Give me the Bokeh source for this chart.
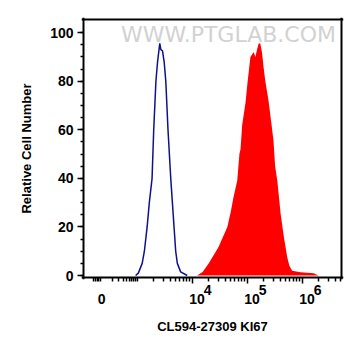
from bokeh.plotting import figure
from bokeh.models import FixedTicker, Label, Range1d, LinearAxis
from bokeh.embed import file_html
from bokeh.resources import INLINE
import numpy as np

# x values are in display units (log10 of fluorescence; biexponential axis)
blue_x = [2.97, 3.02, 3.09, 3.13, 3.18, 3.22, 3.27, 3.30, 3.34, 3.37, 3.41, 3.43,
          3.46, 3.49, 3.52, 3.56, 3.61, 3.67, 3.70, 3.73, 3.79, 3.91]
blue_y = [0, 1, 5, 10, 20, 30, 40, 60, 80, 88, 95.6, 93,
          92.5, 88, 80, 60, 40, 20, 10, 5, 1.5, 0]

red_x = [4.09, 4.19, 4.30, 4.48, 4.64, 4.68, 4.70, 4.75, 4.82, 4.86, 4.88, 4.91,
         4.97, 5.01, 5.06, 5.12, 5.15, 5.18, 5.21, 5.24, 5.27, 5.30, 5.33, 5.39,
         5.44, 5.48, 5.51, 5.55, 5.61, 5.67, 5.73, 5.77, 5.82, 5.97, 6.21, 6.30]
red_y = [0, 1.5, 5, 11.7, 20, 24, 26, 32, 39, 50, 52, 62,
         71, 80, 90, 92, 90, 93, 95.5, 95.5, 92, 85.8, 80.3, 72,
         63, 55.6, 45, 39, 25.4, 15.8, 7.5, 4, 2, 1.4, 0.95, 0]

zero_pos = 2.35
labeled_decades = [4, 5, 6]
exponents = ["4", "5", "6"]
y_ticks = [0, 20, 40, 60, 80, 100]
# visible box limits (data units); the plotting area is 2px larger on every side
X0, X1, Y0, Y1 = 2.04, 6.70, -0.4, 105
PADX = 2 * (X1 - X0) / 256
PADY = 2 * (Y1 - Y0) / 256

FONT = "Liberation Sans"

p = figure(width=353, height=348, output_backend="svg", toolbar_location=None,
           x_range=Range1d(X0 - PADX, X1 + PADX), y_range=Range1d(Y0 - PADY, Y1 + PADY),
           min_border_left=82, min_border_right=11, min_border_top=18,
           min_border_bottom=70, x_axis_location=None, y_axis_location=None)
p.grid.visible = False
p.outline_line_color = None
p.background_fill_color = "white"
p.border_fill_color = "white"

# watermark
p.add_layout(Label(x=4.66, y=99.3, text="WWW.PTGLAB.COM", text_align="center",
                   text_baseline="middle", text_font="DejaVu Sans",
                   text_font_size="22px", text_color="#d2d2d2"))

p.varea(x=red_x, y1=[0] * len(red_x), y2=red_y, fill_color="#ff0000")
p.line(blue_x, blue_y, line_color="#10108c", line_width=1.5)


# frame border: innermost axes whose dense inward ticks form a solid 2px band
def band(ticks):
    return LinearAxis(ticker=FixedTicker(ticks=[], minor_ticks=ticks),
                      major_tick_out=0, major_tick_in=0, minor_tick_out=0,
                      minor_tick_in=2, minor_tick_line_width=1.5,
                      minor_tick_line_color="black", axis_line_color=None)


dense_x = [float(v) for v in np.arange(X0 - PADX, X1 + PADX + 1e-9, PADX / 2.5)]
dense_y = [float(v) for v in np.arange(Y0 - PADY, Y1 + PADY + 1e-9, PADY / 2.5)]
p.add_layout(band(dense_x), "below")
p.add_layout(band(dense_x), "above")
p.add_layout(band(dense_y), "left")
p.add_layout(band(dense_y), "right")

# minor ticks for x (log decades, compressed low region, and the 10^3 mark)
minor_x = [3.0]
for d in [3, 4, 5, 6]:
    for k in range(2, 10):
        v = d + np.log10(k)
        if v < X1:
            minor_x.append(float(v))
for k in range(2, 10):
    minor_x.append(float(zero_pos + np.log10(k) * (3 - zero_pos)))
minor_x += [2.21, 2.24, 2.27, 2.30, 2.33]

lab = dict(major_label_text_font=FONT, major_label_text_font_style="bold",
           major_label_text_font_size="14px", major_label_text_color="black")

# axis B: decade ticks + superscript exponents (padded to sit right of the tick)
pad = "\u00a0" * 8
xb = LinearAxis(ticker=FixedTicker(ticks=labeled_decades, minor_ticks=minor_x),
                major_label_overrides={d: pad + e for d, e in zip(labeled_decades, exponents)},
                major_label_standoff=-2, major_tick_out=5, major_tick_in=1,
                minor_tick_out=3, minor_tick_in=1, axis_line_color=None,
                major_tick_line_width=1.5, minor_tick_line_width=1.5, **lab)
p.add_layout(xb, "below")

# axis C: "0" and "10" bases, plus axis title
base_pos = [zero_pos] + [d + 0.09 for d in labeled_decades]
base_txt = ["0", "10", "10", "10"]
xc = LinearAxis(ticker=FixedTicker(ticks=base_pos, minor_ticks=[]),
                major_label_overrides={v: t for v, t in zip(base_pos, base_txt)},
                major_label_standoff=-7, axis_label="CL594-27309 KI67",
                axis_label_text_font=FONT, axis_label_text_font_style="bold",
                axis_label_text_font_size="13px", axis_label_text_color="black",
                axis_label_standoff=12,
                major_tick_out=0, major_tick_in=0, minor_tick_out=0, minor_tick_in=0,
                axis_line_color=None, major_tick_line_color=None,
                minor_tick_line_color=None, **lab)
p.add_layout(xc, "below")

ya = LinearAxis(ticker=FixedTicker(ticks=y_ticks, minor_ticks=list(range(0, 105, 5))))
ya.axis_line_color = None
ya.major_tick_out = 5
ya.major_tick_in = 1
ya.minor_tick_out = 2
ya.minor_tick_in = 1
ya.major_tick_line_width = 1.5
ya.minor_tick_line_width = 1.5
ya.major_label_standoff = 4
ya.major_label_text_font = FONT
ya.major_label_text_font_style = "bold"
ya.major_label_text_font_size = "14px"
ya.major_label_text_color = "black"
ya.axis_label = "Relative Cell Number"
ya.axis_label_text_font = FONT
ya.axis_label_text_font_style = "bold"
ya.axis_label_text_font_size = "13px"
ya.axis_label_text_color = "black"
ya.axis_label_standoff = 13
p.add_layout(ya, "left")

open("out.html", "w").write(file_html(p, INLINE))
